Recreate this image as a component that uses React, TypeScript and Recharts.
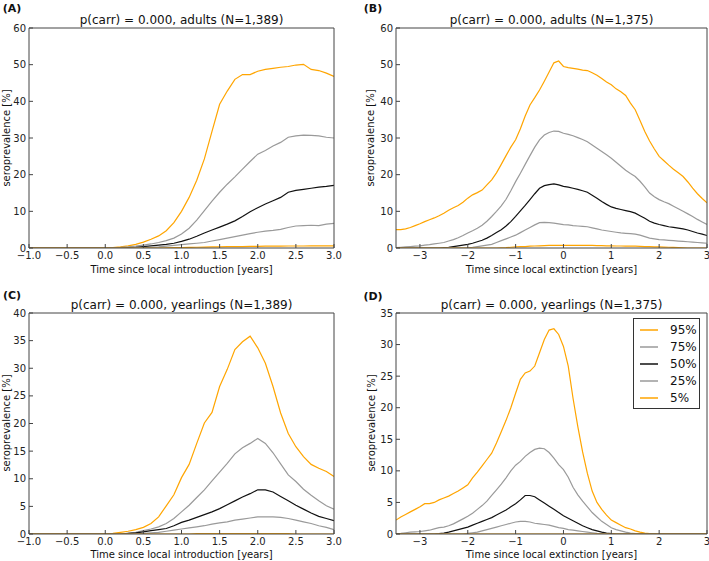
import React from 'react';
import { LineChart, Line, XAxis, YAxis, Legend } from 'recharts';

const FONT = '"DejaVu Sans", sans-serif';
const ORANGE = '#FFA500';
const GRAY = '#9a9a9a';
const BLACK = '#111111';
const SPINE = '#444444';

// time grids (years)
const T_INTRO = Array.from({ length: 41 }, (_, i) => Math.round((-1 + i * 0.1) * 10) / 10);
const T_EXT = Array.from({ length: 66 }, (_, i) => Math.round((-3.5 + i * 0.1) * 10) / 10);

const SERIES_NAMES = ['95%', '75%', '50%', '25%', '5%'];
const SERIES_COLORS = [ORANGE, GRAY, BLACK, GRAY, ORANGE];

// Panel A: adults, since local introduction
const A95 = [0,0,0,0,0,0,0,0,0,0, 0, 0.1,0.3,0.6,1.0,1.6,2.4,3.3,4.7,6.9,10.0, 13.8,18.5,24.3,31.8,39.2,42.8,46.0,47.3,47.3,48.2, 48.7,49.0,49.3,49.5,49.9,50.1,48.7,48.4,47.7,46.8];
const A75 = [0,0,0,0,0,0,0,0,0,0, 0, 0.05,0.15,0.3,0.5,0.8,1.1,1.5,2.0,2.7,3.8, 5.4,7.6,10.2,12.8,15.2,17.4,19.4,21.5,23.6,25.6, 26.6,27.8,28.8,30.2,30.6,30.8,30.7,30.6,30.2,30.0];
const A50 = [0,0,0,0,0,0,0,0,0,0, 0, 0,0,0.1,0.2,0.4,0.6,0.8,1.0,1.3,1.8, 2.4,3.2,4.1,4.9,5.7,6.5,7.4,8.6,9.9,11.0, 12.0,12.9,13.8,15.2,15.7,16.0,16.3,16.6,16.8,17.1];
const A25 = [0,0,0,0,0,0,0,0,0,0, 0, 0,0,0,0.05,0.1,0.2,0.3,0.5,0.7,0.9, 1.1,1.3,1.5,1.9,2.3,2.7,3.1,3.5,3.9,4.3, 4.6,4.8,5.1,5.6,6.0,6.1,6.2,6.1,6.5,6.7];
const A05 = [0,0,0,0,0,0,0,0,0,0, 0, 0,0,0,0,0,0,0,0.05,0.08,0.1, 0.15,0.2,0.25,0.3,0.3,0.35,0.4,0.4,0.45,0.45, 0.5,0.5,0.5,0.55,0.55,0.55,0.6,0.6,0.6,0.6];

// Panel B: adults, since local extinction
const B95 = [5.0,5.0,5.2,5.6,6.1, 6.6,7.2,7.7,8.2,8.8,9.5,10.3,11.0,11.6,12.5, 13.6,14.5,15.1,15.8,17.2,18.6,20.5,22.8,25.2,27.5, 29.5,32.5,36.0,39.0,41.0,43.1,45.5,48.0,50.5,51.0, 49.5,49.2,49.0,48.8,48.5,48.4,47.8,47.1,46.2,45.3, 44.5,43.4,42.6,41.6,39.5,37.7,34.8,31.8,29.2,27.0, 25.0,23.8,22.6,21.5,20.5,19.5,18.0,16.3,14.8,13.5, 12.3];
const B75 = [0.1,0.2,0.3,0.4,0.5, 0.6,0.8,0.9,1.1,1.3,1.5,1.9,2.3,2.8,3.4, 4.1,4.7,5.4,6.2,7.3,8.6,10.0,11.5,13.3,15.6, 18.1,20.4,22.8,25.2,27.5,29.5,30.8,31.5,31.9,31.8, 31.3,31.0,30.6,30.1,29.6,29.0,28.1,27.2,26.3,25.4, 24.5,23.4,22.3,21.2,20.3,19.5,18.2,16.7,15.0,14.0, 13.2,12.6,12.1,11.4,10.7,10.0,9.3,8.6,7.8,7.1, 6.4];
const B50 = [0,0,0,0,0, 0,0,0,0,0,0.1,0.2,0.4,0.6,0.8, 1.0,1.3,1.7,2.1,2.7,3.4,4.2,5.0,6.0,7.2, 8.6,10.1,11.6,13.2,14.8,16.3,17.0,17.3,17.5,17.2, 16.8,16.6,16.3,16.0,15.6,15.2,14.4,13.6,12.7,11.9, 11.2,10.8,10.5,10.2,9.9,9.5,8.8,8.1,7.3,6.8, 6.4,6.1,5.8,5.6,5.4,5.2,4.9,4.5,4.1,3.8, 3.4];
const B25 = [0,0,0,0,0, 0,0,0,0,0,0,0,0,0,0, 0.05,0.2,0.4,0.6,0.8,1.0,1.5,2.0,2.5,3.0, 3.5,4.2,4.9,5.6,6.3,6.9,7.0,6.9,6.8,6.6, 6.4,6.3,6.1,6.0,5.9,5.8,5.5,5.2,4.9,4.7, 4.5,4.3,4.1,4.0,3.9,3.8,3.5,3.1,2.7,2.5, 2.3,2.2,2.1,2.0,1.9,1.8,1.7,1.6,1.5,1.4, 1.3];
const B05 = [0,0,0,0,0, 0,0,0,0,0,0,0,0,0,0, 0,0,0,0,0,0,0,0.05,0.1,0.2, 0.3,0.35,0.4,0.5,0.55,0.6,0.65,0.7,0.7,0.7, 0.7,0.7,0.7,0.7,0.7,0.7,0.7,0.65,0.65,0.6, 0.6,0.55,0.55,0.5,0.5,0.5,0.45,0.4,0.35,0.3, 0.3,0.25,0.2,0.15,0.1,0.05,0,0,0,0, 0];

// Panel C: yearlings, since local introduction
const C95 = [0,0,0,0,0,0,0,0,0,0, 0, 0.1,0.3,0.5,0.8,1.2,1.9,3.1,5.1,7.1,10.2, 12.6,16.4,20.1,22.0,26.7,29.8,33.4,34.8,35.8,33.7, 30.9,26.7,21.9,18.2,15.8,14.0,12.6,11.9,11.3,10.4];
const C75 = [0,0,0,0,0,0,0,0,0,0, 0, 0,0,0.1,0.3,0.6,0.9,1.3,1.9,2.8,4.0, 5.2,6.6,8.0,9.6,11.2,12.8,14.5,15.6,16.4,17.3, 16.4,14.7,12.7,10.7,9.5,8.1,7.0,6.0,5.1,4.5];
const C50 = [0,0,0,0,0,0,0,0,0,0, 0, 0,0,0.1,0.2,0.4,0.6,0.8,1.0,1.5,2.1, 2.5,3.0,3.5,4.0,4.6,5.3,6.0,6.7,7.3,8.0, 8.0,7.6,6.8,6.0,5.2,4.5,3.8,3.2,2.8,2.4];
const C25 = [0,0,0,0,0,0,0,0,0,0, 0, 0,0,0,0,0.1,0.2,0.3,0.5,0.7,0.9, 1.1,1.3,1.5,1.8,2.0,2.2,2.5,2.7,2.9,3.1, 3.1,3.1,3.0,2.8,2.5,2.2,1.9,1.5,1.2,0.8];
const C05 = [0,0,0,0,0,0,0,0,0,0, 0, 0,0,0,0,0,0,0,0,0,0, 0,0.05,0.05,0.05,0.05,0.05,0.05,0.05,0.05,0.05, 0.05,0.05,0.05,0.05,0,0,0,0,0,0];

// Panel D: yearlings, since local extinction
const D95 = [2.2,2.7,3.1,3.5,3.9, 4.3,4.8,4.8,5.0,5.4,5.7,6.0,6.4,6.8,7.3, 7.8,8.9,9.8,10.8,11.8,12.8,14.4,16.2,18.0,20.0, 22.3,24.5,25.5,25.8,26.6,28.7,30.8,32.3,32.5,31.6, 29.7,26.6,21.5,17.0,13.0,9.6,6.8,5.0,3.9,3.0, 2.2,1.8,1.4,1.0,0.8,0.5,0.3,0.15,0.05,0, 0,0,0,0,0,0,0,0,0,0, 0];
const D75 = [0.05,0.1,0.2,0.3,0.35, 0.4,0.5,0.6,0.8,1.0,1.1,1.3,1.6,2.0,2.4, 2.8,3.3,3.9,4.5,5.2,6.1,7.0,7.9,8.9,10.0, 10.9,11.5,12.3,12.9,13.4,13.6,13.5,12.9,12.0,11.0, 10.2,9.0,7.4,6.2,5.2,4.3,3.4,2.7,2.0,1.5, 1.0,0.7,0.5,0.3,0.15,0.05,0,0,0,0, 0,0,0,0,0,0,0,0,0,0, 0];
const D50 = [0,0,0,0,0, 0,0,0,0,0.05,0.15,0.3,0.5,0.7,0.9, 1.1,1.4,1.7,2.0,2.3,2.6,3.0,3.4,3.8,4.3, 4.8,5.4,6.1,6.1,5.9,5.4,4.9,4.4,3.9,3.4, 2.9,2.5,2.1,1.7,1.3,1.0,0.7,0.5,0.3,0.15, 0.05,0,0,0,0,0,0,0,0,0, 0,0,0,0,0,0,0,0,0,0, 0];
const D25 = [0,0,0,0,0, 0,0,0,0,0,0,0,0,0,0, 0.1,0.2,0.3,0.5,0.7,0.9,1.1,1.3,1.5,1.7, 1.9,2.0,2.0,1.9,1.7,1.6,1.5,1.4,1.2,1.0, 0.9,0.7,0.6,0.5,0.4,0.3,0.2,0.1,0.05,0, 0,0,0,0,0,0,0,0,0,0, 0,0,0,0,0,0,0,0,0,0, 0];
const D05 = [0,0,0,0,0, 0,0,0,0,0,0,0,0,0,0, 0,0,0,0,0,0,0,0,0,0, 0,0,0,0,0,0,0,0,0,0, 0,0,0,0,0,0,0,0,0,0, 0,0,0,0,0,0,0,0,0,0, 0,0,0,0,0,0,0,0,0,0, 0];

const X_TICKS_INTRO = [-1, -0.5, 0, 0.5, 1, 1.5, 2, 2.5, 3];
const X_TICKS_EXT = [-3, -2, -1, 0, 1, 2, 3];
const Y_TICKS_ADULT = [0, 10, 20, 30, 40, 50, 60];
const Y_TICKS_C = [0, 5, 10, 15, 20, 25, 30, 35, 40];
const Y_TICKS_D = [0, 5, 10, 15, 20, 25, 30, 35];

const TITLES = [
  'p(carr) = 0.000, adults (N=1,389)',
  'p(carr) = 0.000, adults (N=1,375)',
  'p(carr) = 0.000, yearlings (N=1,389)',
  'p(carr) = 0.000, yearlings (N=1,375)',
];
const PANEL_LABELS = ['(A)', '(B)', '(C)', '(D)'];
const X_LABEL_INTRO = 'Time since local introduction [years]';
const X_LABEL_EXT = 'Time since local extinction [years]';
const Y_LABEL = 'seroprevalence [%]';

const buildRows = (xs: number[], cols: number[][]) =>
  xs.map((x, i) => ({ x, s0: cols[0][i], s1: cols[1][i], s2: cols[2][i], s3: cols[3][i], s4: cols[4][i] }));

const fmtMinus = (s: string) => s.replace('-', '\u2212');
const fmtIntro = (v: number) => fmtMinus(v.toFixed(1));
const fmtExt = (v: number) => fmtMinus(String(Math.round(v)));

const tickStyle = { fontSize: 10, fill: '#222', fontFamily: FONT };

const renderLegend = () => (
  <div
    style={{
      width: 67,
      height: 91,
      boxSizing: 'border-box',
      border: '1px solid #333',
      background: '#fff',
      paddingTop: 3,
      paddingLeft: 6,
      fontFamily: FONT,
      fontSize: 12,
      color: '#111',
    }}
  >
    {SERIES_NAMES.map((name, i) => (
      <div key={name} style={{ display: 'flex', alignItems: 'center', height: 16.8 }}>
        <svg width={18} height={4} style={{ marginRight: 12, display: 'block' }}>
          <line x1={0} y1={2} x2={18} y2={2} stroke={SERIES_COLORS[i]} strokeWidth={1.5} />
        </svg>
        <span>{name}</span>
      </div>
    ))}
  </div>
);

type PanelProps = {
  left: number;
  top: number;
  width: number;
  height: number;
  margin: { top: number; right: number; bottom: number; left: number };
  yAxisWidth: number;
  xAxisHeight: number;
  rows: any[];
  xDomain: [number, number];
  xTicks: number[];
  xFmt: (v: number) => string;
  yDomain: [number, number];
  yTicks: number[];
  legend?: boolean;
};

const Panel = (p: PanelProps) => (
  <div style={{ position: 'absolute', left: p.left, top: p.top }}>
    <LineChart width={p.width} height={p.height} data={p.rows} margin={p.margin}>
      {SERIES_NAMES.map((name, i) => (
        <Line
          key={name}
          dataKey={`s${i}`}
          name={name}
          type="linear"
          stroke={SERIES_COLORS[i]}
          strokeWidth={1.2}
          dot={false}
          activeDot={false}
          isAnimationActive={false}
        />
      ))}
      <XAxis
        dataKey="x"
        type="number"
        domain={p.xDomain}
        ticks={p.xTicks}
        tickFormatter={p.xFmt}
        allowDataOverflow
        height={p.xAxisHeight}
        tickSize={-4}
        tickMargin={8}
        tick={tickStyle}
        axisLine={{ stroke: SPINE }}
        tickLine={{ stroke: SPINE }}
        interval={0}
      />
      <XAxis
        xAxisId="top"
        orientation="top"
        type="number"
        domain={p.xDomain}
        ticks={p.xTicks}
        allowDataOverflow
        height={1}
        tickSize={-4}
        tick={false}
        axisLine={{ stroke: SPINE }}
        tickLine={{ stroke: SPINE }}
        interval={0}
      />
      <YAxis
        type="number"
        domain={p.yDomain}
        ticks={p.yTicks}
        allowDataOverflow
        width={p.yAxisWidth}
        tickSize={-4}
        tickMargin={7}
        tick={tickStyle}
        axisLine={{ stroke: SPINE }}
        tickLine={{ stroke: SPINE }}
        interval={0}
      />
      <YAxis
        yAxisId="right"
        orientation="right"
        type="number"
        domain={p.yDomain}
        ticks={p.yTicks}
        allowDataOverflow
        width={1}
        tickSize={-4}
        tick={false}
        axisLine={{ stroke: SPINE }}
        tickLine={{ stroke: SPINE }}
        interval={0}
      />
      {p.legend && (
        <Legend
          layout="horizontal"
          verticalAlign="middle"
          align="center"
          content={renderLegend}
          wrapperStyle={{ position: 'absolute', left: 279, top: 38, width: 67, height: 91 }}
        />
      )}
    </LineChart>
  </div>
);

const Txt = (props: { x: number; y: number; text: string; size: number; bold?: boolean; rotate?: boolean }) => (
  <div
    style={{
      position: 'absolute',
      left: props.x,
      top: props.y,
      transform: `translate(-50%, -50%)${props.rotate ? ' rotate(-90deg)' : ''}`,
      whiteSpace: 'nowrap',
      fontFamily: FONT,
      fontSize: props.size,
      fontWeight: props.bold ? 'bold' : 'normal',
      color: '#111',
      lineHeight: 1,
    }}
  >
    {props.text}
  </div>
);

export default function App() {
  const rowsA = buildRows(T_INTRO, [A95, A75, A50, A25, A05]);
  const rowsB = buildRows(T_EXT, [B95, B75, B50, B25, B05]);
  const rowsC = buildRows(T_INTRO, [C95, C75, C50, C25, C05]);
  const rowsD = buildRows(T_EXT, [D95, D75, D50, D25, D05]);

  return (
    <div style={{ position: 'absolute', left: 0, top: 0, width: 709, height: 561, background: '#fff', overflow: 'hidden' }}>
      <Panel
        left={0} top={0} width={354} height={280}
        margin={{ top: 27, right: 19, bottom: 0, left: 0 }}
        yAxisWidth={29} xAxisHeight={32}
        rows={rowsA} xDomain={[-1, 3]} xTicks={X_TICKS_INTRO} xFmt={fmtIntro}
        yDomain={[0, 60]} yTicks={Y_TICKS_ADULT}
      />
      <Panel
        left={354} top={0} width={355} height={280}
        margin={{ top: 27, right: 1, bottom: 0, left: 0 }}
        yAxisWidth={42} xAxisHeight={32}
        rows={rowsB} xDomain={[-3.5, 3]} xTicks={X_TICKS_EXT} xFmt={fmtExt}
        yDomain={[0, 60]} yTicks={Y_TICKS_ADULT}
      />
      <Panel
        left={0} top={280} width={354} height={281}
        margin={{ top: 32, right: 19, bottom: 0, left: 0 }}
        yAxisWidth={29} xAxisHeight={27}
        rows={rowsC} xDomain={[-1, 3]} xTicks={X_TICKS_INTRO} xFmt={fmtIntro}
        yDomain={[0, 40]} yTicks={Y_TICKS_C}
      />
      <Panel
        left={354} top={280} width={355} height={281}
        margin={{ top: 32, right: 1, bottom: 0, left: 0 }}
        yAxisWidth={42} xAxisHeight={27}
        rows={rowsD} xDomain={[-3.5, 3]} xTicks={X_TICKS_EXT} xFmt={fmtExt}
        yDomain={[0, 35]} yTicks={Y_TICKS_D}
        legend
      />

      <Txt x={12} y={8} text={PANEL_LABELS[0]} size={11} bold />
      <Txt x={373} y={8} text={PANEL_LABELS[1]} size={11} bold />
      <Txt x={12} y={295} text={PANEL_LABELS[2]} size={11} bold />
      <Txt x={373} y={296} text={PANEL_LABELS[3]} size={11} bold />

      <Txt x={181.5} y={20} text={TITLES[0]} size={12} />
      <Txt x={551.5} y={20} text={TITLES[1]} size={12} />
      <Txt x={181.5} y={305} text={TITLES[2]} size={12} />
      <Txt x={551.5} y={305} text={TITLES[3]} size={12} />

      <Txt x={181.5} y={270} text={X_LABEL_INTRO} size={10} />
      <Txt x={551.5} y={270} text={X_LABEL_EXT} size={10} />
      <Txt x={181.5} y={555} text={X_LABEL_INTRO} size={10} />
      <Txt x={551.5} y={555} text={X_LABEL_EXT} size={10} />

      <Txt x={7} y={138} text={Y_LABEL} size={10} rotate />
      <Txt x={371} y={138} text={Y_LABEL} size={10} rotate />
      <Txt x={7} y={423} text={Y_LABEL} size={10} rotate />
      <Txt x={372} y={423} text={Y_LABEL} size={10} rotate />
    </div>
  );
}
